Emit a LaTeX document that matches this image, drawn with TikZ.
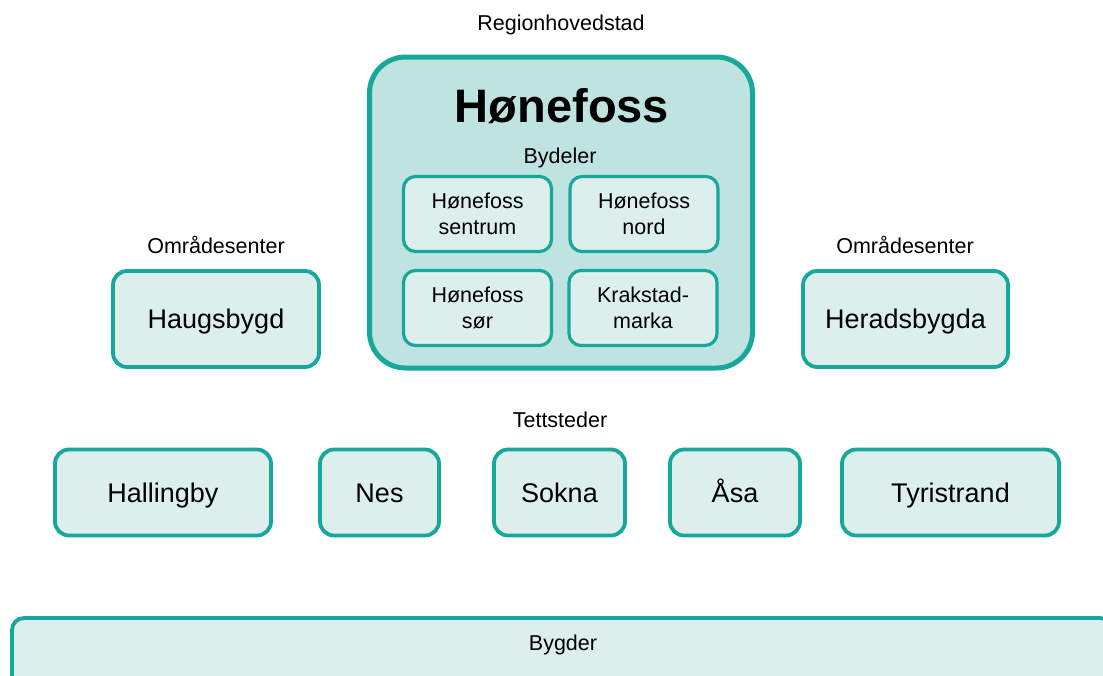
\documentclass[tikz,border=0pt]{standalone}
\usepackage{fontspec}
\setmainfont{Liberation Sans}
\definecolor{tealB}{HTML}{17A89B}
\definecolor{tealL}{HTML}{DCEFED}
\definecolor{tealM}{HTML}{BEE3E0}
\begin{document}
\begin{tikzpicture}[x=1pt,y=-1pt,
  box/.style={draw=tealB, fill=tealL, line width=3.8pt, rounded corners=14pt,
    align=center, inner sep=0pt, text height=19.3pt, text depth=0pt,
    font=\fontsize{27}{32}\selectfont},
  subbox/.style={draw=tealB, fill=tealL, line width=3.2pt, rounded corners=12pt,
    align=center, inner sep=0pt, minimum width=148pt, minimum height=75pt,
    font=\fontsize{21.5}{26}\selectfont},
  lbl/.style={inner sep=0pt, text height=15.4pt, text depth=0pt,
    font=\fontsize{21.5}{26}\selectfont}]
\useasboundingbox (0,0) rectangle (1103,675);
\clip (0,0) rectangle (1103,675);
\fill[white] (0,0) rectangle (1103,675);

\node[lbl] (reg) at (561,23) {Regionhovedstad};
\node[draw=tealB, fill=tealM, line width=5pt, rounded corners=36pt,
  minimum width=383pt, minimum height=311pt, inner sep=0pt] (hf) at (561,212.5) {};
\node[inner sep=0pt, text height=33.7pt, text depth=0pt,
  font=\fontsize{47}{56}\selectfont\bfseries] (hft) at (562,105.5) {Hønefoss};
\node[lbl] (byd) at (560,156) {Bydeler};
\node[subbox] (s1) at (477.5,214) {Hønefoss\\sentrum};
\node[subbox] (s2) at (644,214) {Hønefoss\\nord};
\node[subbox] (s3) at (477.5,308) {Hønefoss\\sør};
\node[subbox] (s4) at (643,308) {Krakstad-\\marka};

\node[lbl] (o1) at (216,246) {Områdesenter};
\node[lbl] (o2) at (905,246) {Områdesenter};
\node[box, minimum width=206pt, minimum height=96pt] (haug) at (216,319) {Haugsbygd};
\node[box, minimum width=205pt, minimum height=96pt] (hera) at (905.5,319) {Heradsbygda};

\node[lbl] (tett) at (560,420) {Tettsteder};
\node[box, minimum width=216pt, minimum height=86pt] (hall) at (163,492.5) {Hallingby};
\node[box, minimum width=119pt, minimum height=86pt] (nes) at (379.5,492.5) {Nes};
\node[box, minimum width=131pt, minimum height=86pt] (sok) at (559.5,492.5) {Sokna};
\node[box, minimum width=130pt, minimum height=86pt] (asa) at (735,492.5) {Åsa};
\node[box, minimum width=217pt, minimum height=86pt] (tyr) at (950.5,492.5) {Tyristrand};

\node[box, rounded corners=12pt, minimum width=1100pt, minimum height=70pt] (byg) at (562,653) {};
\node[lbl] (bygt) at (563,643) {Bygder};
\end{tikzpicture}
\end{document}
